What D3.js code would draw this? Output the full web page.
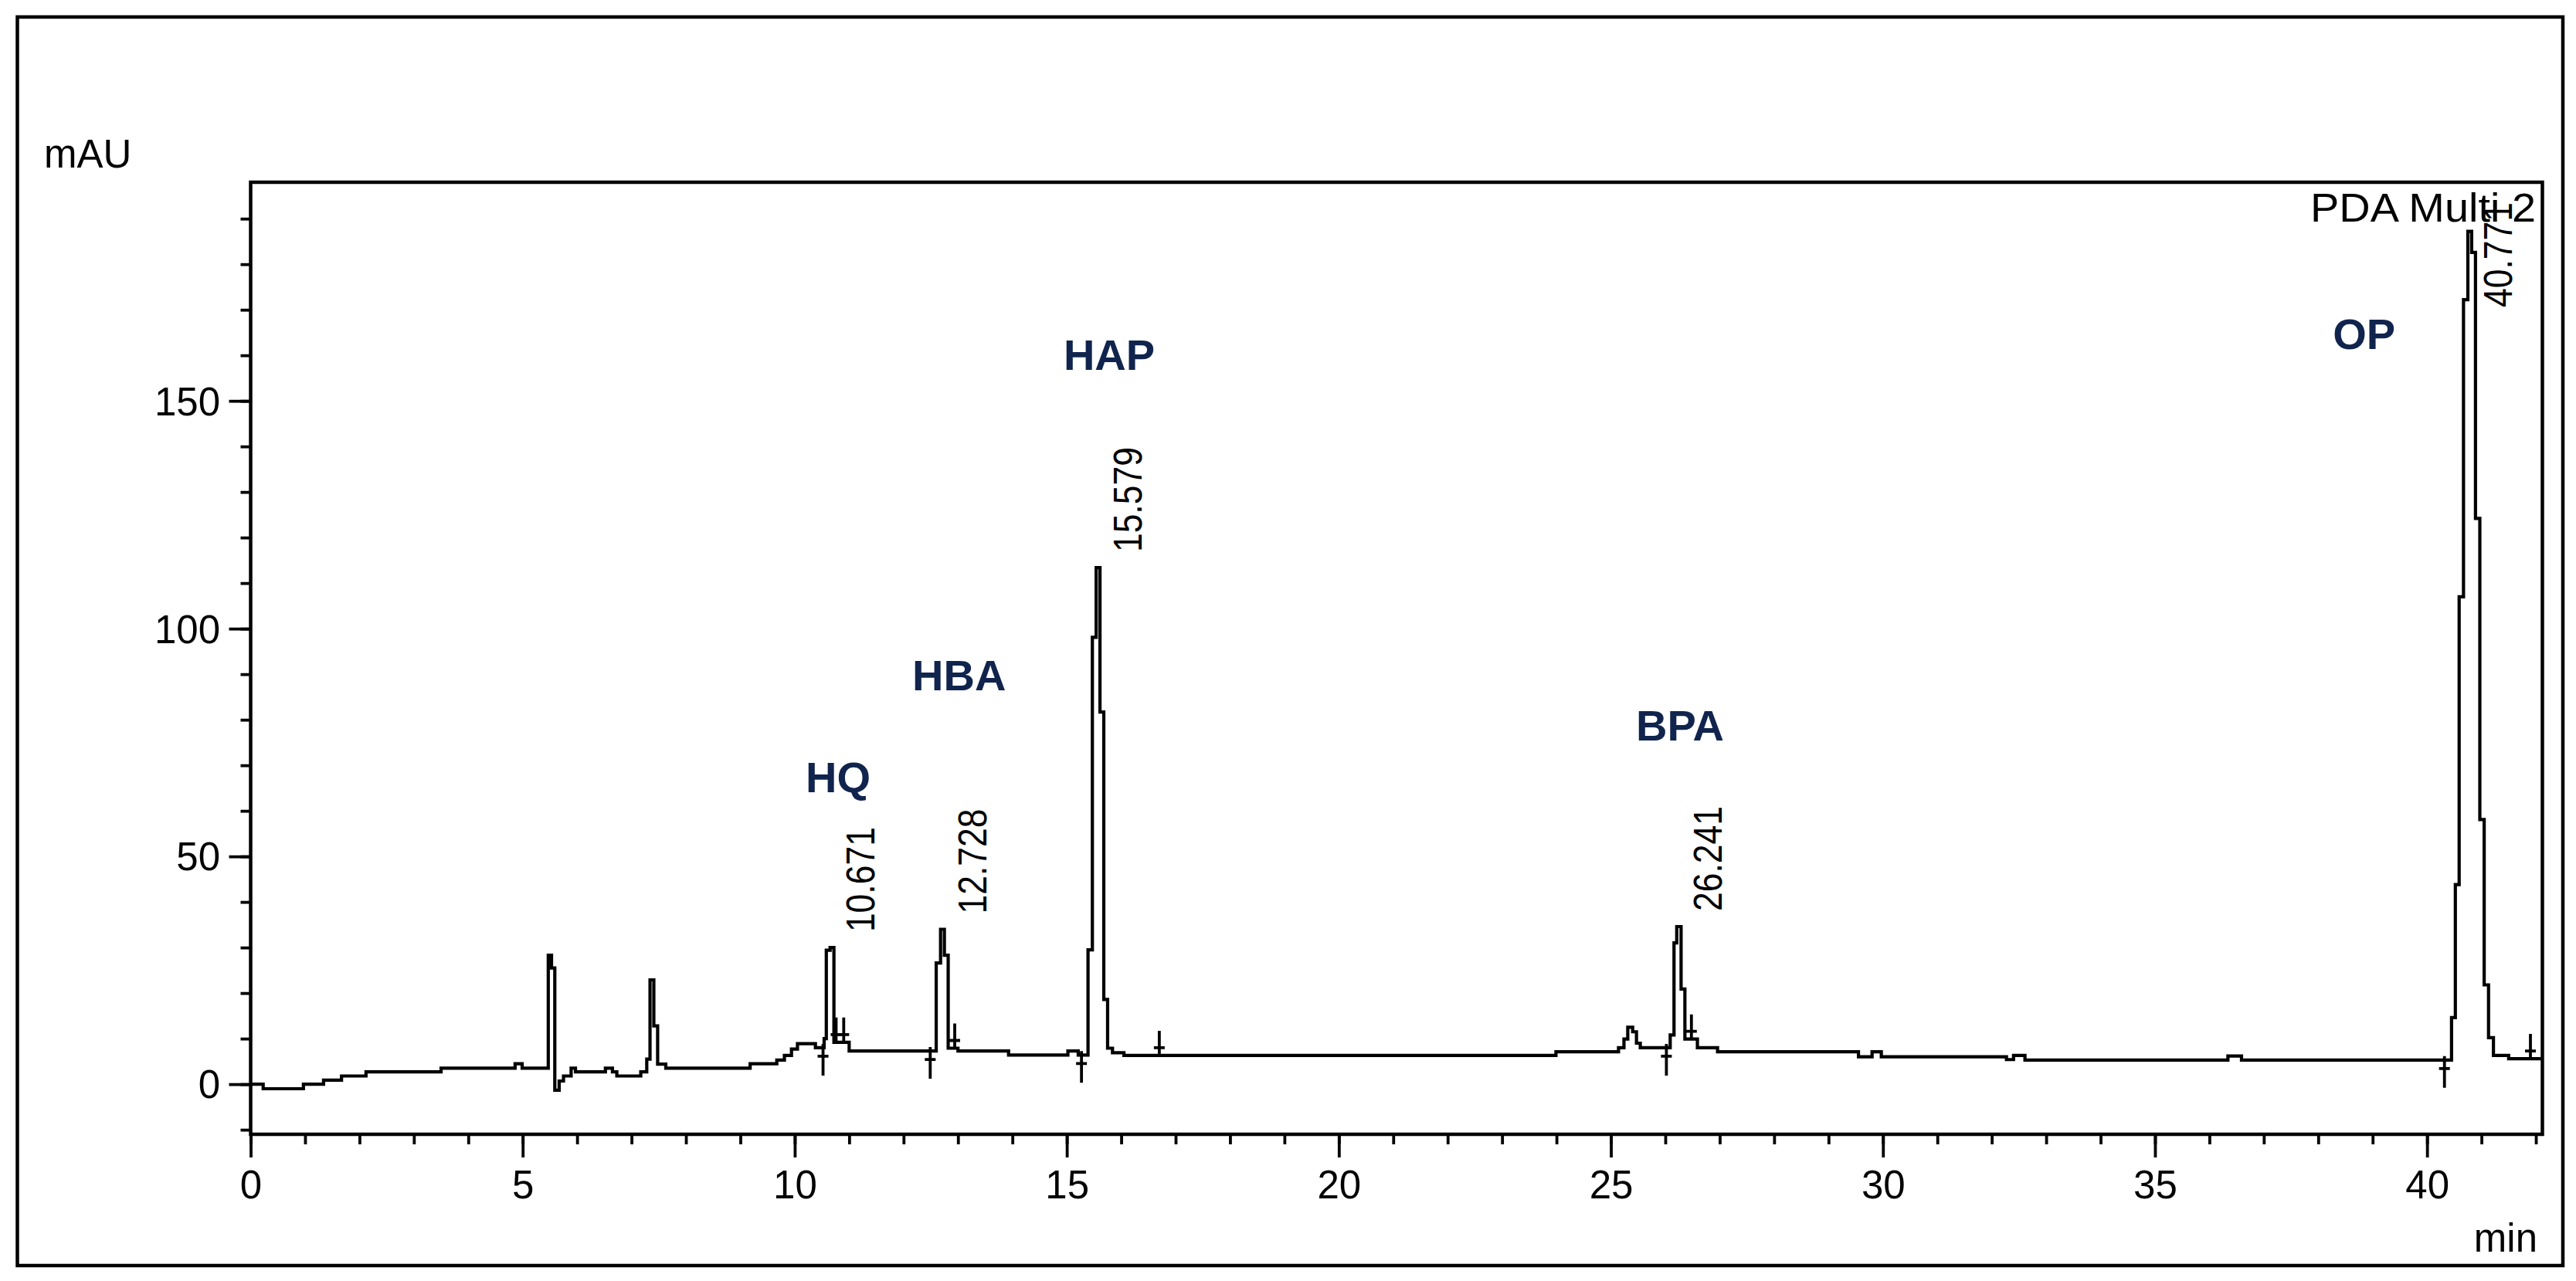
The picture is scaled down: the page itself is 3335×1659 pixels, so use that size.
<!DOCTYPE html>
<html><head><meta charset="utf-8">
<script src="https://cdn.jsdelivr.net/npm/d3@7"></script>
<style>body{margin:0;background:#fff}svg{display:block}</style>
</head><body><svg id="c" width="3335" height="1659"></svg>
<script>
// ---- data ----
const traceTime = [0,0.23,0.97,1.34,1.67,2.12,3.50,4.86,4.99,5.47,5.53,5.59,5.67,5.75,5.89,5.97,6.52,6.65,6.73,7.17,7.28,7.34,7.41,7.48,7.63,9.18,9.67,9.81,9.94,10.05,10.38,10.54,10.58,10.65,10.72,11.00,12.60,12.68,12.75,12.82,13.00,13.93,15.02,15.21,15.39,15.47,15.54,15.61,15.68,15.75,15.84,16.05,23.99,25.14,25.24,25.31,25.40,25.47,25.54,26.09,26.16,26.21,26.29,26.36,26.59,26.96,29.55,29.80,29.97,32.27,32.40,32.61,36.34,36.59,40.45,40.52,40.59,40.67,40.75,40.82,40.89,40.97,41.05,41.13,41.22,41.50,42.12];
const traceValue = [0,-1.0,0.0,0.9,1.8,2.7,3.5,4.5,3.5,28.3,25.5,-1.3,0.7,1.8,3.5,2.7,3.5,2.7,1.8,2.7,5.5,22.9,12.8,4.4,3.5,4.5,5.3,6.3,7.7,8.9,8.0,10.0,29.4,30.0,9.2,7.3,26.6,34.0,28.3,7.9,7.3,6.4,7.3,6.4,29.5,98.1,113.4,81.7,18.6,7.9,6.9,6.3,7.1,8.0,9.9,12.5,11.5,9.0,8.0,10.8,31.0,34.6,20.9,9.9,8.0,7.1,6.0,7.1,6.0,5.4,6.3,5.3,6.2,5.3,14.6,43.8,107.0,172.2,187.2,182.6,124.2,58.1,21.8,10.2,6.3,5.6,5.6];

const xDomain = [0, 42.12];
const yDomain = [-11, 198];
const xMinorTicks = d3.range(0, 43, 1);
const xMajorTicks = [0, 5, 10, 15, 20, 25, 30, 35, 40];
const xTickLabels = ["0", "5", "10", "15", "20", "25", "30", "35", "40"];
const yMinorTicks = d3.range(-10, 191, 10);
const yMajorTicks = [0, 50, 100, 150];
const yTickLabels = ["0", "50", "100", "150"];

const compounds = ["HQ", "HBA", "HAP", "BPA", "OP"];
const compoundLabelTime = [10.20, 12.16, 14.94, 25.46, 38.27];
const compoundLabelValue = [64.1, 86.4, 156.8, 75.4, 161.4];

const rtLabels = ["10.671", "12.728", "15.579", "26.241", "40.771"];
const rtTimes = [10.671, 12.728, 15.579, 26.241, 40.771];

const markerStartTimes = [10.52, 12.49, 15.27, 26.02, 40.32];
const markerEndTimes = [10.76, 10.90, 12.94, 16.70, 26.48, 41.90];

const yUnit = "mAU", xUnit = "min", channelName = "PDA Multi 2";

// ---- drawing ----
const svg = d3.select("#c");
const FONT = "'Liberation Sans', Arial, Helvetica, sans-serif";
const L = 324.5, R = 3291.5, T = 236, B = 1469;
const x = d3.scaleLinear().domain(xDomain).range([L, R]);
const y = d3.scaleLinear().domain(yDomain).range([B, T]);

svg.append("rect").attr("width", 3335).attr("height", 1659).attr("fill", "#fff");
// outer frame
svg.append("rect").attr("x", 22.5).attr("y", 22).attr("width", 3295.5).attr("height", 1617)
  .attr("fill", "none").attr("stroke", "#000").attr("stroke-width", 4.5);

function styleAxis(g) {
  g.select(".domain").remove();
  g.selectAll(".tick line").attr("stroke", "#000").attr("stroke-width", 3.8);
  g.selectAll("text").attr("font-family", FONT).attr("font-size", 51).attr("fill", "#000");
}

// x axis
svg.append("g").attr("transform", `translate(0,${B})`)
  .call(d3.axisBottom(x).tickValues(xMinorTicks).tickSize(13).tickFormat(""))
  .call(styleAxis);
svg.append("g").attr("transform", `translate(0,${B})`)
  .call(d3.axisBottom(x).tickValues(xMajorTicks).tickSize(30)
    .tickFormat((d, i) => xTickLabels[i]))
  .call(styleAxis)
  .call(g => g.selectAll("text").attr("y", 83).attr("dy", 0));

// y axis
svg.append("g").attr("transform", `translate(${L},0)`)
  .call(d3.axisLeft(y).tickValues(yMinorTicks).tickSize(13).tickFormat(""))
  .call(styleAxis);
svg.append("g").attr("transform", `translate(${L},0)`)
  .call(d3.axisLeft(y).tickValues(yMajorTicks).tickSize(28)
    .tickFormat((d, i) => yTickLabels[i]))
  .call(styleAxis)
  .call(g => g.selectAll("text").attr("x", -39.5).attr("dy", "0.35em"));

// clip
svg.append("clipPath").attr("id", "clip").append("rect")
  .attr("x", L).attr("y", T).attr("width", R - L).attr("height", B - T);

// trace
const pts = traceTime.map((t, i) => [t, traceValue[i]]);
const line = d3.line().x(d => x(d[0])).y(d => y(d[1])).curve(d3.curveStepAfter);
svg.append("path").datum(pts).attr("d", line).attr("clip-path", "url(#clip)")
  .attr("fill", "none").attr("stroke", "#000").attr("stroke-width", 4.2)
  .attr("stroke-linejoin", "miter").attr("stroke-linecap", "butt");

function valueAt(t) {
  const i = d3.bisectRight(traceTime, t) - 1;
  return traceValue[Math.max(0, i)];
}

// integration markers
const mk = svg.append("g").attr("fill", "none").attr("stroke", "#000").attr("stroke-width", 3.8);
markerStartTimes.forEach(t => {
  const xx = x(t), y0 = y(valueAt(t));
  mk.append("path").attr("d", `M${xx},${y0 - 5}V${y0 + 36}M${xx - 7},${y0 + 11}H${xx + 7}`);
});
markerEndTimes.forEach(t => {
  const xx = x(t), y0 = y(valueAt(t));
  mk.append("path").attr("d", `M${xx},${y0}V${y0 - 32}M${xx - 7},${y0 - 10}H${xx + 7}`);
});

// retention-time labels
rtTimes.forEach((t, i) => {
  let peak = d3.max(pts.filter(p => Math.abs(p[0] - t) < 0.15), p => p[1]);
  const yb = Math.max(y(peak) - 20, T + 162);
  svg.append("text").attr("transform", `translate(${x(t) + 56},${yb}) rotate(-90)`)
    .attr("font-family", FONT).attr("font-size", 51).attr("fill", "#000")
    .attr("textLength", 136).attr("lengthAdjust", "spacingAndGlyphs")
    .text(rtLabels[i]);
});

// compound labels
compounds.forEach((c, i) => {
  svg.append("text").attr("x", x(compoundLabelTime[i])).attr("y", y(compoundLabelValue[i]))
    .attr("font-family", FONT).attr("font-size", 56).attr("font-weight", "bold")
    .attr("fill", "#10244d").text(c);
});

// plot frame
svg.append("rect").attr("x", L).attr("y", T).attr("width", R - L).attr("height", B - T)
  .attr("fill", "none").attr("stroke", "#000").attr("stroke-width", 4.5);

// unit labels
svg.append("text").attr("x", 57).attr("y", 217).attr("font-family", FONT)
  .attr("font-size", 51).attr("fill", "#000").text(yUnit);
svg.append("text").attr("x", 3285).attr("y", 1621).attr("text-anchor", "end")
  .attr("font-family", FONT).attr("font-size", 51).attr("fill", "#000").text(xUnit);
svg.append("text").attr("x", 3283).attr("y", 287).attr("text-anchor", "end")
  .attr("font-family", FONT).attr("font-size", 51).attr("fill", "#000")
  .attr("textLength", 292).attr("lengthAdjust", "spacingAndGlyphs").text(channelName);
</script>
</body></html>
